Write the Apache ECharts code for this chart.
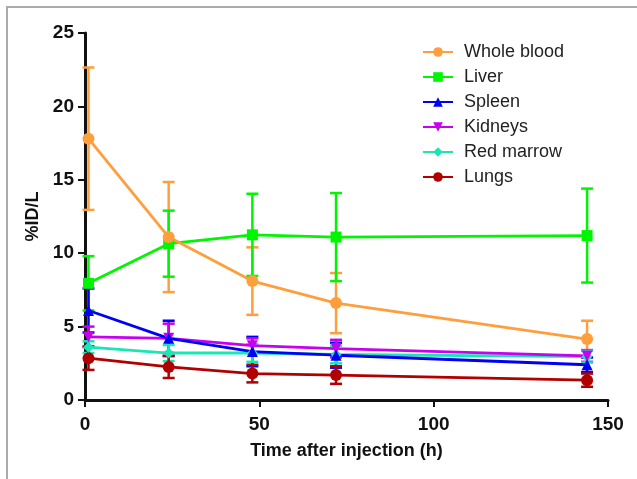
<!doctype html>
<html>
	<head>
		<meta charset="UTF-8">
		<title></title>
		<script src="https://cdn.jsdelivr.net/npm/echarts@6/dist/echarts.min.js"></script>
		<style>
			html, body { margin: 0; padding: 0; background: #fff; }
			#main { width: 637px; height: 479px; }
		</style>
	</head>
	<body>
		<div id="main"></div>
		<script type="text/javascript">
			// time points (h)
			var hours = [1, 24, 48, 72, 144];
			var names = ['Whole blood', 'Liver', 'Spleen', 'Kidneys', 'Red marrow', 'Lungs'];
			// mean values %ID/L
			var wholeBlood = [17.8, 11.1, 8.1, 6.6, 4.15];
			var liver = [7.95, 10.65, 11.25, 11.1, 11.2];
			var spleen = [6.1, 4.2, 3.3, 3.05, 2.4];
			var kidneys = [4.3, 4.2, 3.7, 3.5, 3.0];
			var redMarrow = [3.6, 3.2, 3.2, 3.1, 2.95];
			var lungs = [2.85, 2.25, 1.8, 1.7, 1.35];
			// error bar half widths
			var wholeBloodSd = [4.85, 3.75, 2.3, 2.05, 1.25];
			var liverSd = [1.85, 2.25, 2.8, 3.0, 3.2];
			var spleenSd = [1.5, 1.2, 1.0, 0.85, 0.5];
			var kidneysSd = [0.7, 1.0, 0.5, 0.6, 0.4];
			var redMarrowSd = [0.4, 0.55, 0.6, 0.6, 0.4];
			var lungsSd = [0.8, 0.75, 0.6, 0.6, 0.45];

			var means = [wholeBlood, liver, spleen, kidneys, redMarrow, lungs];
			var sds = [wholeBloodSd, liverSd, spleenSd, kidneysSd, redMarrowSd, lungsSd];
			var colors = ['#FF9E3D', '#00F500', '#0000F5', '#C800F0', '#1AE6B4', '#B00000'];
			var symbols = ['circle', 'rect', 'triangle', 'path://M0,0 L10,0 L5,9 Z', 'diamond', 'circle'];
			var font = 'Arial, "Liberation Sans", sans-serif';

			var series = [];
			// error bars first so they sit under the lines
			for (var i = 0; i < names.length; i++) {
				var bars = [];
				for (var j = 0; j < hours.length; j++) {
					bars.push([hours[j], means[i][j] - sds[i][j], means[i][j] + sds[i][j]]);
				}
				(function (c) {
					series.push({
						name: names[i] + ' SD',
						type: 'custom',
						data: bars,
						z: 2,
						renderItem: function (params, api) {
							var lo = api.coord([api.value(0), api.value(1)]);
							var hi = api.coord([api.value(0), api.value(2)]);
							var w = 6;
							var st = { stroke: c, lineWidth: 2.5 };
							return {
								type: 'group',
								children: [
									{ type: 'line', shape: { x1: hi[0], y1: hi[1], x2: lo[0], y2: lo[1] }, style: st },
									{ type: 'line', shape: { x1: hi[0] - w, y1: hi[1], x2: hi[0] + w, y2: hi[1] }, style: st },
									{ type: 'line', shape: { x1: lo[0] - w, y1: lo[1], x2: lo[0] + w, y2: lo[1] }, style: st }
								]
							};
						}
					});
				})(colors[i]);
			}
			for (var i = names.length - 1; i >= 0; i--) {
				var pts = [];
				for (var j = 0; j < hours.length; j++) {
					pts.push([hours[j], means[i][j]]);
				}
				series.push({
					name: names[i],
					type: 'line',
					data: pts,
					z: 3,
					symbol: symbols[i],
					symbolSize: symbols[i] == 'circle' ? 12 : 11,
					showAllSymbol: true,
					lineStyle: { color: colors[i], width: 2.8 },
					itemStyle: { color: colors[i] },
					animation: false
				});
			}

			var myChart = echarts.init(document.getElementById('main'));
			var option = {
				animation: false,
				textStyle: { fontFamily: font },
				graphic: [{
					type: 'rect',
					shape: { x: 7, y: 7, width: 700, height: 600 },
					style: { fill: 'none', stroke: '#aaaaaa', lineWidth: 2 },
					silent: true
				}],
				grid: {
					left: 85,
					right: 29,
					top: 33,
					bottom: 79
				},
				legend: {
					data: names,
					orient: 'vertical',
					left: 417,
					top: 38,
					itemWidth: 30,
					itemHeight: 12,
					itemGap: 7,
					textStyle: { fontSize: 18, color: '#222', fontFamily: font, padding: [0, 0, 0, 6] }
				},
				xAxis: {
					type: 'value',
					min: 0,
					max: 150,
					interval: 50,
					name: 'Time after injection (h)',
					nameLocation: 'middle',
					nameGap: 42,
					nameTextStyle: { fontSize: 18, fontWeight: 'bold', color: '#111' },
					axisLine: { lineStyle: { color: '#111', width: 3 } },
					axisTick: { length: 7, lineStyle: { color: '#111', width: 2 } },
					axisLabel: { fontSize: 19, fontWeight: 'bold', color: '#111', margin: 15 },
					splitLine: { show: false }
				},
				yAxis: {
					type: 'value',
					min: 0,
					max: 25,
					interval: 5,
					name: '%ID/L',
					nameLocation: 'middle',
					nameGap: 43,
					nameTextStyle: { fontSize: 18, fontWeight: 'bold', color: '#111' },
					axisLine: { show: true, lineStyle: { color: '#111', width: 3 } },
					axisTick: { show: true, length: 7, lineStyle: { color: '#111', width: 2 } },
					axisLabel: { fontSize: 19, fontWeight: 'bold', color: '#111', margin: 11 },
					splitLine: { show: false }
				},
				series: series
			};
			myChart.setOption(option);
		</script>
	</body>
</html>
